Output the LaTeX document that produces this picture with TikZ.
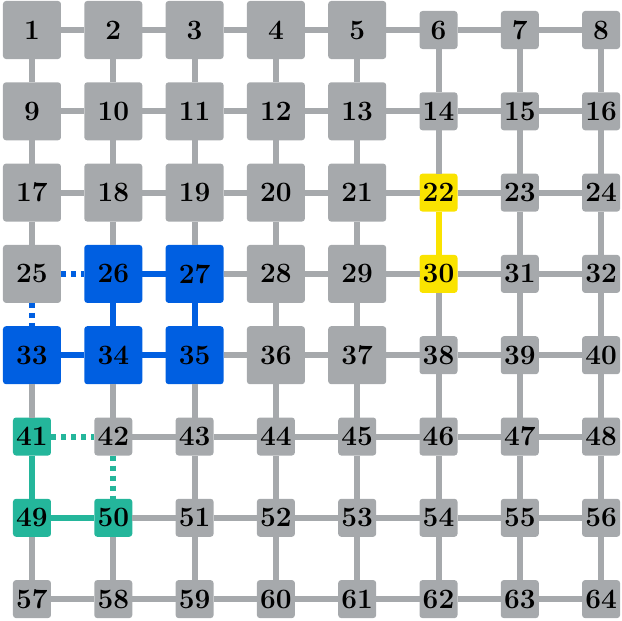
\documentclass[tikz,border=0pt]{standalone}
\usetikzlibrary{positioning}

\definecolor{gridgray}{RGB}{166,169,172}
\definecolor{clusterblue}{RGB}{0,95,225}
\definecolor{clusteryellow}{RGB}{250,227,0}
\definecolor{clusterteal}{RGB}{36,182,155}

\tikzset{
  cell/.style={fill=gridgray, rounded corners=1.5pt, inner sep=0pt, outer sep=0pt,
               font=\fontsize{14}{16}\selectfont\bfseries},
  link/.style={draw=gridgray, line width=3pt},
  dotlink/.style={dash pattern=on 2.5pt off 2.5pt},
  % coloured cells
  n22/.style={fill=clusteryellow}, n30/.style={fill=clusteryellow},
  n26/.style={fill=clusterblue}, n27/.style={fill=clusterblue},
  n33/.style={fill=clusterblue}, n34/.style={fill=clusterblue},
  n35/.style={fill=clusterblue},
  n41/.style={fill=clusterteal}, n49/.style={fill=clusterteal},
  n50/.style={fill=clusterteal},
  % coloured links
  l22-30/.style={draw=clusteryellow},
  l26-27/.style={draw=clusterblue}, l26-34/.style={draw=clusterblue},
  l27-35/.style={draw=clusterblue}, l33-34/.style={draw=clusterblue},
  l34-35/.style={draw=clusterblue},
  l25-26/.style={draw=clusterblue, dotlink}, l25-33/.style={draw=clusterblue, dotlink},
  l41-49/.style={draw=clusterteal}, l49-50/.style={draw=clusterteal},
  l41-42/.style={draw=clusterteal, dotlink}, l42-50/.style={draw=clusterteal, dotlink},
}

\begin{document}
\begin{tikzpicture}
  \useasboundingbox (-16pt,15pt) rectangle (295pt,-295.5pt);

  % the 8x8 lattice of sites
  \foreach \r in {0,...,7}
    \foreach \c in {0,...,7} {
      \pgfmathtruncatemacro\n{8*\r+\c+1}
      \pgfmathsetmacro\sz{(\c<5 && \r<5) ? 29 : 19}
      \node (n\n) [cell, minimum size=\sz pt, n\n/.try]
        at (\c*40.65pt, -\r*40.65pt) {\n};
    }

  % horizontal bonds
  \foreach \r in {0,...,7}
    \foreach \c in {0,...,6} {
      \pgfmathtruncatemacro\a{8*\r+\c+1}
      \pgfmathtruncatemacro\b{\a+1}
      \draw[link, l\a-\b/.try] (n\a) -- (n\b);
    }

  % vertical bonds
  \foreach \r in {0,...,6}
    \foreach \c in {0,...,7} {
      \pgfmathtruncatemacro\a{8*\r+\c+1}
      \pgfmathtruncatemacro\b{\a+8}
      \draw[link, l\a-\b/.try] (n\a) -- (n\b);
    }
\end{tikzpicture}
\end{document}
